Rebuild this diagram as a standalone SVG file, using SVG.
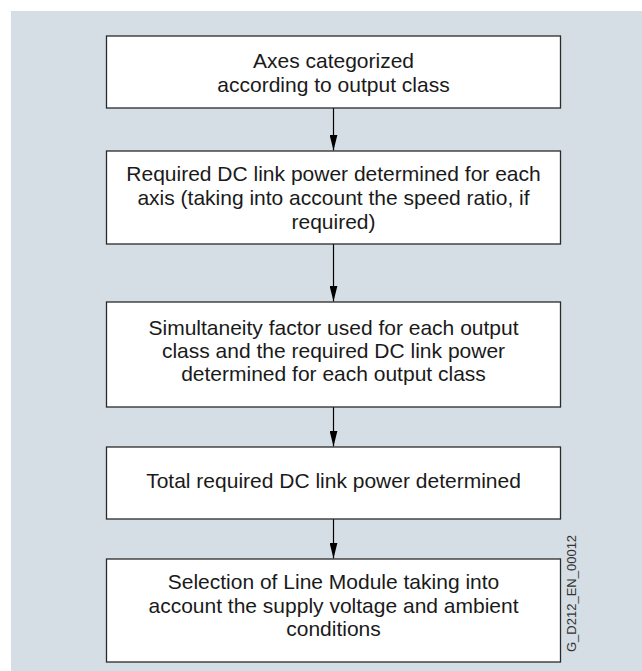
<svg xmlns="http://www.w3.org/2000/svg" width="642" height="671" viewBox="0 0 642 671">
<style>
.box{fill:#ffffff;stroke:#2a2a2a;stroke-width:1.3}
.t{font-family:"Liberation Sans",Arial,sans-serif;font-size:21px;fill:#1a1a1a;text-anchor:middle}
.c{stroke:#000;stroke-width:1.2;fill:none}
.id{font-family:"Liberation Sans",Arial,sans-serif;font-size:13px;fill:#333}
</style>
<defs>
<marker id="ah" markerWidth="16" markerHeight="8" refX="16" refY="4" orient="auto" markerUnits="userSpaceOnUse" viewBox="0 0 16 8">
<path d="M0,0 L16,4 L0,8 Z" fill="#000"/>
</marker>
</defs>
<rect x="11" y="11" width="631" height="660" fill="#d4dee4"/>
<g id="connectors">
<line class="c" x1="333.5" y1="108" x2="333.5" y2="150.5" marker-end="url(#ah)"/>
<line class="c" x1="333.5" y1="244" x2="333.5" y2="301.5" marker-end="url(#ah)"/>
<line class="c" x1="333.5" y1="407" x2="333.5" y2="446.5" marker-end="url(#ah)"/>
<line class="c" x1="333.5" y1="519" x2="333.5" y2="558.5" marker-end="url(#ah)"/>
</g>
<g id="n1">
<rect class="box" x="106.5" y="36" width="454" height="72"/>
<text class="t" x="333.5" y="68">Axes categorized</text>
<text class="t" x="333.5" y="91.5">according to output class</text>
</g>
<g id="n2">
<rect class="box" x="106.5" y="151" width="454" height="93"/>
<text class="t" x="333.5" y="181">Required DC link power determined for each</text>
<text class="t" x="333.5" y="205">axis (taking into account the speed ratio, if</text>
<text class="t" x="333.5" y="229">required)</text>
</g>
<g id="n3">
<rect class="box" x="106.5" y="302" width="454" height="105"/>
<text class="t" x="333.5" y="335">Simultaneity factor used for each output</text>
<text class="t" x="333.5" y="358">class and the required DC link power</text>
<text class="t" x="333.5" y="381">determined for each output class</text>
</g>
<g id="n4">
<rect class="box" x="106.5" y="447" width="454" height="72"/>
<text class="t" x="333.5" y="488">Total required DC link power determined</text>
</g>
<g id="n5">
<rect class="box" x="106.5" y="559" width="454" height="103"/>
<text class="t" x="333.5" y="589">Selection of Line Module taking into</text>
<text class="t" x="333.5" y="612.5">account the supply voltage and ambient</text>
<text class="t" x="333.5" y="636">conditions</text>
</g>
<text class="id" transform="translate(576,652) rotate(-90)">G_D212_EN_00012</text>
</svg>
